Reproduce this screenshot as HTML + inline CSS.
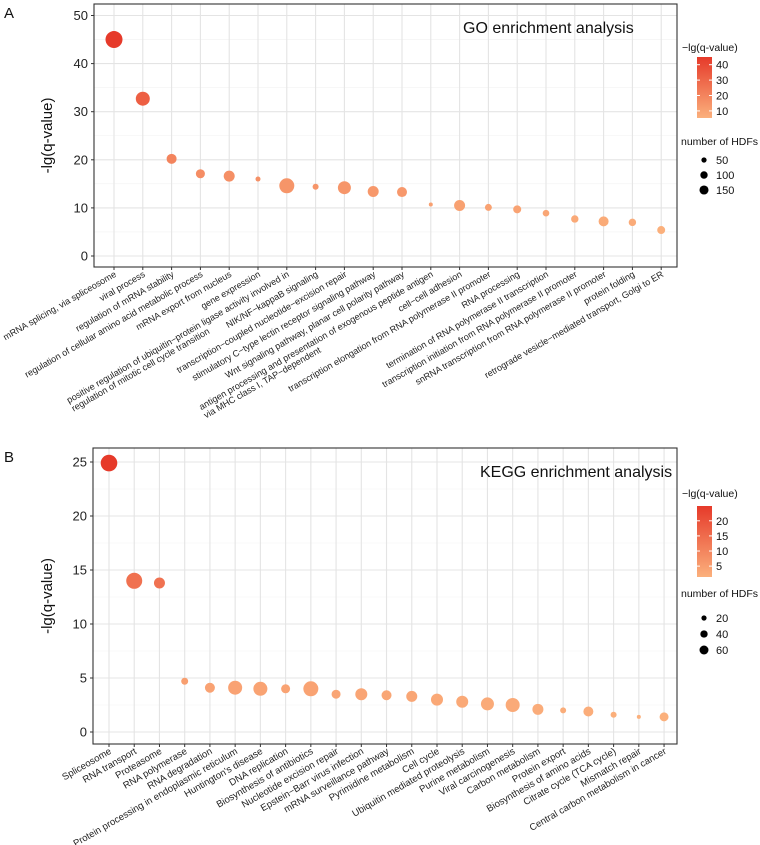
<!DOCTYPE html>
<html><head><meta charset="utf-8">
<style>
html,body{margin:0;padding:0;background:#fff;}
svg{display:block;font-family:"Liberation Sans",Arial,sans-serif;}
</style></head>
<body>
<svg id="chart" width="760" height="845" viewBox="0 0 760 845" xmlns="http://www.w3.org/2000/svg"></svg>
<script>
// ---- GO panel data ----
const goTerms = [
 ["mRNA splicing, via spliceosome"],["viral process"],["regulation of mRNA stability"],
 ["regulation of cellular amino acid metabolic process"],["mRNA export from nucleus"],["gene expression"],
 ["positive regulation of ubiquitin\u2212protein ligase activity involved in","regulation of mitotic cell cycle transition"],
 ["NIK/NF\u2212kappaB signaling"],["transcription\u2212coupled nucleotide\u2212excision repair"],
 ["stimulatory C\u2212type lectin receptor signaling pathway"],["Wnt signaling pathway, planar cell polarity pathway"],
 ["antigen processing and presentation of exogenous peptide antigen","via MHC class I, TAP\u2212dependent"],
 ["cell\u2212cell adhesion"],["transcription elongation from RNA polymerase II promoter"],["RNA processing"],
 ["termination of RNA polymerase II transcription"],["transcription initiation from RNA polymerase II promoter"],
 ["snRNA transcription from RNA polymerase II promoter"],["protein folding"],
 ["retrograde vesicle\u2212mediated transport, Golgi to ER"]];
const goValues = [45,32.7,20.2,17.1,16.6,16.0,14.6,14.4,14.2,13.4,13.3,10.7,10.5,10.1,9.7,8.9,7.7,7.2,7.0,5.4];
const goCounts = [528,358,183,150,221,46,410,66,309,221,183,29,221,89,117,80,100,183,100,117];
const goYTicks = [0,10,20,30,40,50];
const goColorTicks = [10,20,30,40];
const goSizeTicks = [50,100,150];

// ---- KEGG panel data ----
const keggTerms = ["Spliceosome","RNA transport","Proteasome","RNA polymerase","RNA degradation",
 "Protein processing in endoplasmic reticulum","Huntington's disease","DNA replication","Biosynthesis of antibiotics",
 "Nucleotide excision repair","Epstein\u2212Barr virus infection","mRNA surveillance pathway","Pyrimidine metabolism",
 "Cell cycle","Ubiquitin mediated proteolysis","Purine metabolism","Viral carcinogenesis","Carbon metabolism",
 "Protein export","Biosynthesis of amino acids","Citrate cycle (TCA cycle)","Mismatch repair","Central carbon metabolism in cancer"];
const keggValues = [24.9,14.0,13.8,4.7,4.1,4.1,4.0,4.0,4.0,3.5,3.5,3.4,3.3,3.0,2.8,2.6,2.5,2.1,2.0,1.9,1.6,1.4,1.4];
const keggCounts = [205,190,90,36,74,146,146,60,167,60,107,74,90,107,107,126,146,90,27,74,27,12,60];
const keggYTicks = [0,5,10,15,20,25];
const keggColorTicks = [5,10,15,20];
const keggSizeTicks = [20,40,60];

const NS="http://www.w3.org/2000/svg";
const svg=document.getElementById('chart');
function mk(tag,attrs,parent,text){const e=document.createElementNS(NS,tag);for(const k in attrs)e.setAttribute(k,attrs[k]);if(text!==undefined)e.textContent=text;(parent||svg).appendChild(e);return e;}
const LO=[251,176,124], HI=[230,58,42];
function col(t){t=Math.max(0,Math.min(1,t));const c=LO.map((l,i)=>Math.round(l+(HI[i]-l)*t));return `rgb(${c[0]},${c[1]},${c[2]})`;}

function panel(o){
  const g=mk('g',{});
  
  
  const xS=i=>o.x0+i*o.dx;
  const yS=v=>o.y0-v*o.ky;
  mk('rect',{x:o.L,y:o.T,width:o.R-o.L,height:o.B-o.T,fill:'#fff'},g);
  for(let i=0;i<o.yt.length-1;i++){const v=(o.yt[i]+o.yt[i+1])/2;mk('line',{x1:o.L,x2:o.R,y1:yS(v),y2:yS(v),stroke:'#f2f2f2','stroke-width':0.6},g);}
  o.yt.forEach(v=>{const l=mk('line',{x1:o.L,x2:o.R,y1:yS(v),y2:yS(v),stroke:'#e4e4e4','stroke-width':1.1},g);
    });
  o.terms.forEach((t,i)=>{mk('line',{x1:xS(i),x2:xS(i),y1:o.T,y2:o.B,stroke:'#e4e4e4','stroke-width':1.1},g);});
  mk('rect',{x:o.L,y:o.T,width:o.R-o.L,height:o.B-o.T,fill:'none',stroke:'#333','stroke-width':1.1},g);
  o.yt.forEach(v=>{mk('line',{x1:o.L-3,x2:o.L,y1:yS(v),y2:yS(v),stroke:'#333'},g);
    const t=mk('text',{x:o.L-6,y:yS(v)+4.5,'text-anchor':'end','font-size':13,fill:'#222'},g,String(v));
    });
  o.terms.forEach((t,i)=>{
    const x=xS(i);
    mk('line',{x1:x,x2:x,y1:o.B,y2:o.B+3,stroke:'#333'},g);
    const lines=Array.isArray(t)?t:[t];
    const tg=mk('g',{transform:`translate(${x+3},${o.B+9}) rotate(${o.ang})`},g);
    
    
    const t1=mk('text',{x:0,y:0,'text-anchor':'end','font-size':o.fs,fill:'#222'},tg,lines[0]);
    if(lines.length>1){const w=t1.getComputedTextLength();
      mk('text',{x:-w,y:o.fs*1.05,'text-anchor':'start','font-size':o.fs,fill:'#222'},tg,lines[1]);}
  });
  o.vals.forEach((v,i)=>{
    const c=mk('circle',{cx:xS(i),cy:yS(v),r:o.rk*Math.sqrt(o.counts[i]),fill:col((v-o.cmin)/(o.cmax-o.cmin))},g);
    
    
  });
  const tt=mk('text',{x:o.titleX,y:o.titleY,'font-size':16,fill:'#111'},g,o.title);
  
  const yl=mk('text',{transform:`translate(52,${(o.T+o.B)/2}) rotate(-90)`,'text-anchor':'middle','font-size':15,fill:'#111'},g,'-lg(q-value)');
  
  const pl=mk('text',{x:4,y:o.T+14,'font-size':15,fill:'#111'},g,o.letter);
  
  const lg=mk('g',{},g);
  
  mk('text',{x:682,y:o.cTitleY,'font-size':10.5,fill:'#111'},lg,'\u2212lg(q-value)');
  const gid='grad'+o.letter;
  const d=mk('defs',{},lg);const gr=mk('linearGradient',{id:gid,x1:0,y1:1,x2:0,y2:0},d);
  mk('stop',{offset:0,'stop-color':col(0)},gr);mk('stop',{offset:1,'stop-color':col(1)},gr);
  mk('rect',{x:697,y:o.barT,width:15,height:o.barB-o.barT,fill:`url(#${gid})`},lg);
  const cy=v=>o.barB-(v-o.cmin)/(o.cmax-o.cmin)*(o.barB-o.barT);
  o.ct.forEach(v=>{mk('line',{x1:697,x2:700,y1:cy(v),y2:cy(v),stroke:'#fff'},lg);mk('line',{x1:709,x2:712,y1:cy(v),y2:cy(v),stroke:'#fff'},lg);
    mk('text',{x:716,y:cy(v)+4,'font-size':11,fill:'#111'},lg,String(v));});
  const sg=mk('g',{},g);
  
  mk('text',{x:681,y:o.sTitleY,'font-size':10.5,fill:'#111'},sg,'number of HDFs');
  o.st.forEach((n,k)=>{const y=o.sY0+k*o.sDy;mk('circle',{cx:704,cy:y,r:o.rk*Math.sqrt(n),fill:'#000'},sg);
    mk('text',{x:716,y:y+4,'font-size':11,fill:'#111'},sg,String(n));});
}

panel({name:'go-panel',letter:'A',terms:goTerms,vals:goValues,counts:goCounts,yt:goYTicks,ct:goColorTicks,st:goSizeTicks,
  L:94,R:677,T:4,B:267,x0:114,dx:28.8,y0:256,ky:4.81,rk:0.37,fs:9.1,ang:-30,cmin:5.4,cmax:45,
  title:'GO enrichment analysis',titleX:463,titleY:33,cTitleY:51,barT:57,barB:118,sTitleY:145,sY0:160,sDy:15});
panel({name:'kegg-panel',letter:'B',terms:keggTerms,vals:keggValues,counts:keggCounts,yt:keggYTicks,ct:keggColorTicks,st:keggSizeTicks,
  L:93,R:677,T:448,B:744,x0:109,dx:25.23,y0:732,ky:10.8,rk:0.58,fs:9.6,ang:-30,cmin:1.4,cmax:24.9,
  title:'KEGG enrichment analysis',titleX:480,titleY:477,cTitleY:497,barT:506,barB:577,sTitleY:597,sY0:618,sDy:16});
</script>
</body></html>
